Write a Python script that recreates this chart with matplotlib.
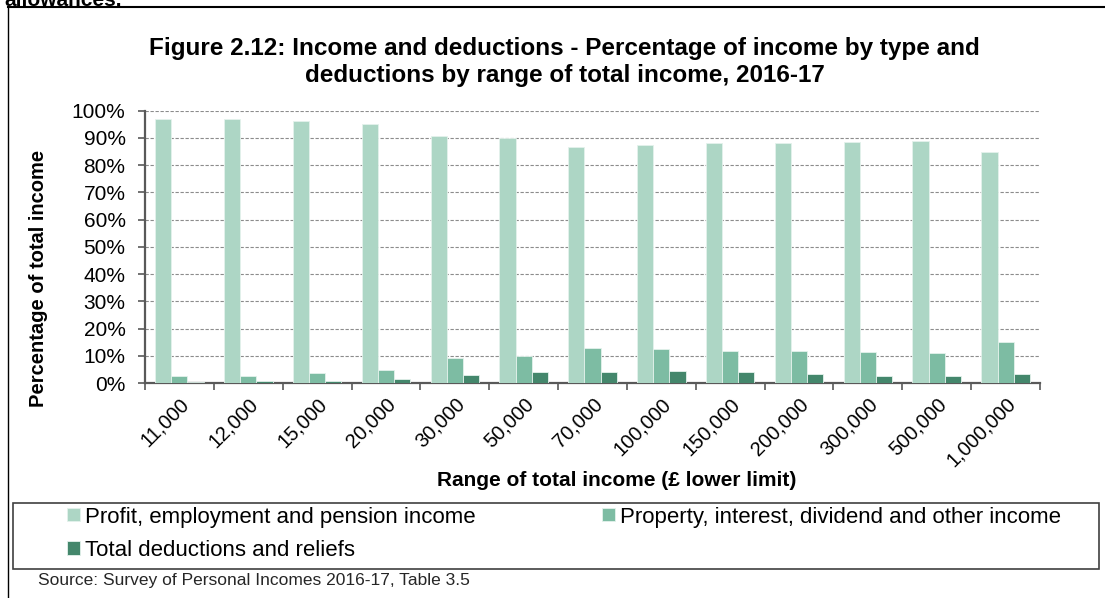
import numpy as np
import matplotlib.pyplot as plt
from matplotlib.patches import Rectangle
from matplotlib.ticker import PercentFormatter, FixedLocator

plt.rcParams['font.family'] = ['Liberation Sans', 'DejaVu Sans']

# Income ranges (lower limit, GBP)
ranges = ['11,000', '12,000', '15,000', '20,000', '30,000', '50,000', '70,000',
          '100,000', '150,000', '200,000', '300,000', '500,000', '1,000,000']

# Percentages of total income
profit_employment_pension = [97.1, 97.1, 96.3, 95.1, 90.8, 90.0, 86.8,
                             87.3, 88.0, 88.0, 88.4, 88.8, 84.8]
property_interest_other = [2.7, 2.7, 3.6, 4.8, 9.2, 10.0, 13.0,
                           12.6, 11.9, 11.9, 11.4, 11.0, 15.0]
deductions_reliefs = [0.5, 0.7, 0.7, 1.6, 2.8, 4.0, 3.9,
                      4.4, 3.9, 3.2, 2.7, 2.7, 3.2]

series_names = ['Profit, employment and pension income',
                'Property, interest, dividend and other income',
                'Total deductions and reliefs']
colours = ['#add6c5', '#7dbca3', '#44876c']

fig = plt.figure(figsize=(11.05, 5.98), dpi=100)
ax = fig.add_axes([0.1312, 0.3595, 0.81, 0.4555])

x = np.arange(len(ranges))
w = 0.235
bars = []
for i, (vals, name, col) in enumerate(zip(
        [profit_employment_pension, property_interest_other, deductions_reliefs],
        series_names, colours)):
    b = ax.bar(x + (i - 1) * w, vals, w, color=col, edgecolor='#e4f2ec',
               linewidth=0.6, label=name, zorder=3)
    bars.append(b)

ax.set_xlim(-0.5, len(ranges) - 0.5)
ax.set_ylim(0, 100)
ax.set_yticks(np.arange(0, 101, 10))
ax.yaxis.set_major_formatter(PercentFormatter(decimals=0))
ax.grid(axis='y', color='#8c8c8c', linestyle=(0, (3, 1.5)), linewidth=0.8, zorder=0)

# boundary ticks between ranges, labels at the centres
ax.xaxis.set_major_locator(FixedLocator(np.arange(-0.5, len(ranges), 1.0)))
ax.xaxis.set_minor_locator(FixedLocator(x))
ax.tick_params(axis='x', which='major', length=5, width=1.2, color='#595959',
               labelbottom=False)
ax.tick_params(axis='x', which='minor', length=0, pad=8)
ax.set_xticklabels(ranges, minor=True, rotation=45, ha='right',
                   rotation_mode='anchor', fontsize=14.5)
ax.tick_params(axis='y', length=5, width=1.2, color='#595959', labelsize=15, pad=9)

for side in ['top', 'right']:
    ax.spines[side].set_visible(False)
for side in ['left', 'bottom']:
    ax.spines[side].set_color('#595959')
    ax.spines[side].set_linewidth(1.6)

ax.set_ylabel('Percentage of total income', fontsize=14.5, fontweight='bold', va='center')
ax.yaxis.set_label_coords(-0.1185, 0.385)
ax.set_xlabel('Range of total income (£ lower limit)', fontsize=15, fontweight='bold',
              va='center')
ax.xaxis.set_label_coords(0.527, -0.359)

fig.text(0.511, 0.896, 'Figure 2.12: Income and deductions - Percentage of income by type and\n'
         'deductions by range of total income, 2016-17',
         ha='center', va='center', fontsize=17.5, fontweight='bold', linespacing=1.2)

# row-major order: profit, property on the first row, deductions on the second
order = [0, 2, 1]
leg = fig.legend([bars[k] for k in order], [series_names[k] for k in order],
                 loc='upper left', bbox_to_anchor=(0.061, 0.153),
                 ncol=2, fontsize=16, frameon=False,
                 handlelength=0.55, handleheight=0.55, handletextpad=0.25,
                 columnspacing=5.7, borderpad=0, labelspacing=0.55, borderaxespad=0)

# legend frame across the full width
fig.add_artist(Rectangle((0.0118, 0.0485), 0.9828, 0.1104, transform=fig.transFigure,
                         fill=False, edgecolor='#404040', linewidth=1.2))

fig.text(0.034, 0.03, 'Source: Survey of Personal Incomes 2016-17, Table 3.5',
         ha='left', va='center', fontsize=12.5, color='#262626')

# partial line of text above the frame
fig.text(0.004, 1.0, 'allowances.', ha='left', va='center', fontsize=15,
         fontweight='bold')

# outer frame lines
fig.add_artist(plt.Line2D([0.0072, 1.0], [0.988, 0.988], color='black', linewidth=1.5,
                          transform=fig.transFigure))
fig.add_artist(plt.Line2D([0.0072, 0.0072], [0.0, 0.988], color='black', linewidth=1.0,
                          transform=fig.transFigure))

fig.savefig('out.png', dpi=100)
